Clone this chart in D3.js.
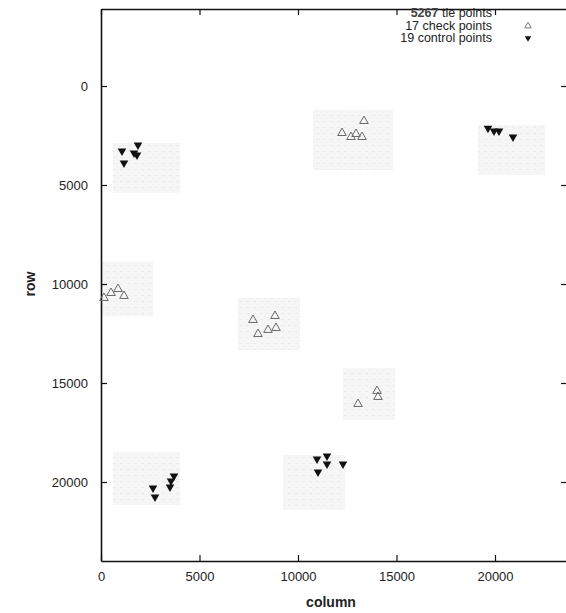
<!DOCTYPE html>
<html>
<head>
<meta charset="utf-8">
<script src="https://cdn.jsdelivr.net/npm/d3@7"></script>
<style>
  body { margin: 0; background: #fff; }
  text { font-family: "Liberation Sans", Arial, Helvetica, sans-serif; }
</style>
</head>
<body>
<svg id="chart" width="566" height="613"></svg>
<script>
// ---- data ----
const xTicks = [0, 5000, 10000, 15000, 20000];
const yTicks = [0, 5000, 10000, 15000, 20000];

// tie-point cluster regions: [colMin, colMax, rowMin, rowMax]
const tieRegions = [
  [610, 4010, 2880, 5400],
  [19140, 22540, 1970, 4500],
  [0, 2640, 8890, 11615],
  [6950, 10100, 10700, 13330],
  [10760, 14820, 1200, 4240],
  [12280, 14920, 14240, 16870],
  [610, 4010, 18480, 21160],
  [9240, 12390, 18630, 21410]
];

// check points: [column, row]
const checkCols = [152, 508, 863, 1167, 7716, 8832, 7969, 8477, 8883, 12233, 12690, 12944, 13249, 13350, 14010, 14061, 13046];
const checkRows = [10706, 10454, 10252, 10605, 11817, 11615, 12524, 12322, 12221, 2374, 2576, 2424, 2576, 1768, 15403, 15706, 16059];

// control points: [column, row]
const controlCols = [1066, 1878, 1675, 1827, 1167, 19644, 19949, 20202, 20913, 3705, 3553, 3502, 2640, 2741, 11472, 10964, 11472, 12284, 11015];
const controlRows = [3283, 2980, 3384, 3485, 3889, 2136, 2273, 2273, 2576, 19695, 19948, 20250, 20301, 20755, 18684, 18837, 19089, 19089, 19493];

const legendLabels = [["5267", " tie points"], ["17", " check points"], ["19", " control points"]];

// ---- chart ----
const svg = d3.select("#chart");
const x = d3.scaleLinear().domain([0, 23655]).range([101, 567]);
const y = d3.scaleLinear().domain([-3889, 23990]).range([9, 561]);

// texture pattern for tie regions
const defs = svg.append("defs");
const pat = defs.append("pattern").attr("id", "tie").attr("patternUnits", "userSpaceOnUse")
  .attr("width", 7).attr("height", 6);
pat.append("rect").attr("width", 7).attr("height", 6).attr("fill", "#f6f6f6");
pat.append("rect").attr("x", 1).attr("y", 1).attr("width", 3).attr("height", 1).attr("fill", "#ececec");
pat.append("rect").attr("x", 5).attr("y", 4).attr("width", 1).attr("height", 1).attr("fill", "#eeeeee");

svg.append("g").selectAll("rect").data(tieRegions).join("rect")
  .attr("x", d => x(d[0])).attr("y", d => y(d[2]))
  .attr("width", d => x(d[1]) - x(d[0])).attr("height", d => y(d[3]) - y(d[2]))
  .attr("fill", "url(#tie)");

// axes
function styleAxis(g) {
  g.selectAll(".domain").attr("stroke", "#111").attr("stroke-width", 1.6);
  g.selectAll(".tick line").attr("stroke", "#111").attr("stroke-width", 1.2);
  g.selectAll(".tick text").attr("fill", "#222").style("font-size", "13px")
    .style("font-family", "'Liberation Sans', Arial, sans-serif");
}
svg.append("g").attr("transform", "translate(0,561)")
  .call(d3.axisBottom(x).tickValues(xTicks).tickFormat(d3.format("d")).tickSize(-6).tickSizeOuter(0).tickPadding(11))
  .call(styleAxis);
svg.append("g").attr("transform", "translate(0,9)")
  .call(d3.axisTop(x).tickValues(xTicks).tickFormat("").tickSize(-6).tickSizeOuter(0))
  .call(styleAxis);
svg.append("g").attr("transform", "translate(101,0)")
  .call(d3.axisLeft(y).tickValues(yTicks).tickFormat(d3.format("d")).tickSize(-6).tickSizeOuter(0).tickPadding(13))
  .call(styleAxis);
svg.append("g").attr("transform", "translate(567,0)")
  .call(d3.axisRight(y).tickValues(yTicks).tickFormat("").tickSize(-6).tickSizeOuter(0))
  .call(styleAxis);

// axis titles
svg.append("text").attr("x", 331).attr("y", 607).attr("text-anchor", "middle")
  .style("font-size", "14px").style("font-weight", "bold").attr("fill", "#222").text("column");
svg.append("text").attr("transform", "translate(35,284) rotate(-90)").attr("text-anchor", "middle")
  .style("font-size", "14px").style("font-weight", "bold").attr("fill", "#222").text("row");

// symbols
const triUp = d3.symbol().type(d3.symbolTriangle).size(32);
const checkData = checkCols.map((c, i) => [c, checkRows[i]]);
const controlData = controlCols.map((c, i) => [c, controlRows[i]]);

svg.append("g").selectAll("path").data(checkData).join("path")
  .attr("d", triUp)
  .attr("transform", d => `translate(${x(d[0])},${y(d[1])})`)
  .attr("fill", "none").attr("stroke", "#6a6a6a").attr("stroke-width", 1);

svg.append("g").selectAll("path").data(controlData).join("path")
  .attr("d", triUp)
  .attr("transform", d => `translate(${x(d[0])},${y(d[1])}) rotate(180)`)
  .attr("fill", "#111");

// legend
const leg = svg.append("g");
legendLabels.forEach((l, i) => {
  const t = leg.append("text").attr("x", 492).attr("y", 17 + i * 12.5).attr("text-anchor", "end")
    .style("font-size", "12.5px").attr("fill", "#222");
  t.append("tspan").style("font-weight", i === 0 ? "bold" : "normal").attr("fill", i === 0 ? "#444" : "#222").text(l[0]);
  t.append("tspan").text(l[1]);
});
leg.append("path").attr("d", d3.symbol().type(d3.symbolTriangle).size(18))
  .attr("transform", "translate(528,26)").attr("fill", "none").attr("stroke", "#777").attr("stroke-width", 1);
leg.append("path").attr("d", d3.symbol().type(d3.symbolTriangle).size(18))
  .attr("transform", "translate(528,38) rotate(180)").attr("fill", "#111");
</script>
</body>
</html>
